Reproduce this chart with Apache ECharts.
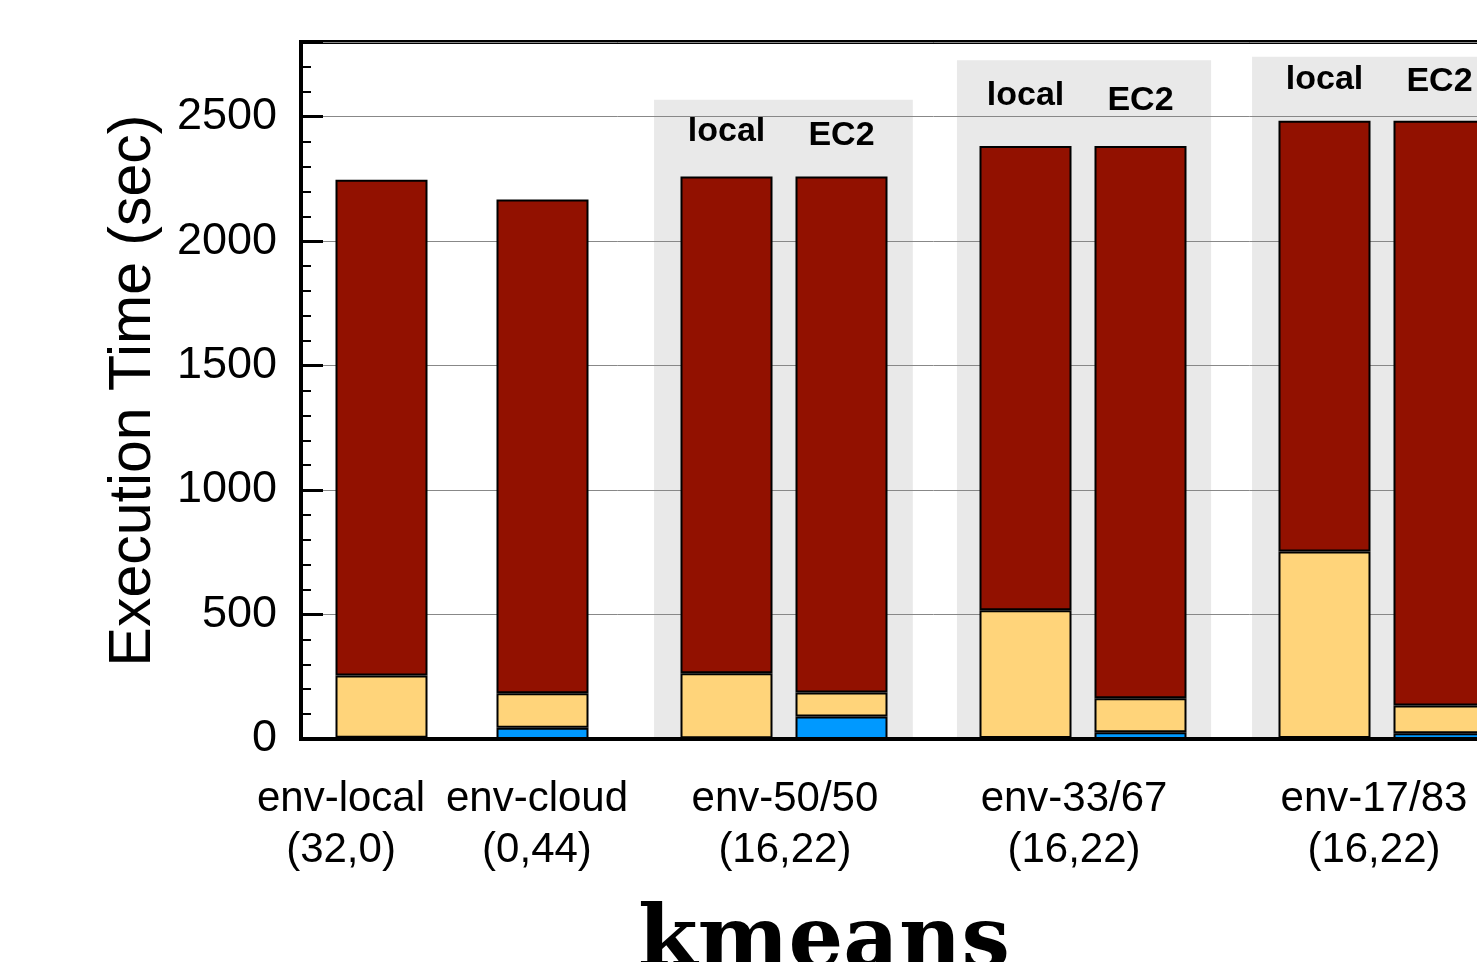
<!DOCTYPE html>
<html>
<head>
<meta charset="utf-8">
<script src="https://cdn.jsdelivr.net/npm/echarts@6/dist/echarts.min.js"></script>
<style>
  html, body { margin: 0; padding: 0; background: #fff; overflow: hidden; }
  /* the plot runs past the right edge of the window, as in the original crop */
  #chart { width: 1600px; height: 962px; }
</style>
</head>
<body>
<div id="chart"></div>
<script>
// 55 narrow slots (~23px) along x; bars sit in these slots
const slotCount = 55;
const barSlots = [3, 10, 18, 23, 31, 36, 44, 49];
const blueSeg = [5, 45, 3, 90, 4, 27, 4, 23];
const yellowSeg = [250, 139, 261, 97, 513, 137, 749, 112];
const redSeg = [1992, 1983, 1996, 2073, 1865, 2218, 1731, 2349];

// group labels under the axis
const envNames = ['env-local', 'env-cloud', 'env-50/50', 'env-33/67', 'env-17/83'];
const envCores = ['(32,0)', '(0,44)', '(16,22)', '(16,22)', '(16,22)'];
const envLabelX = [1.24, 9.76, 20.54, 33.11, 46.15];

// grey boxes behind the hybrid runs
const boxStart = [14.85, 28.02, 40.85];
const boxEnd = [26.1, 39.07, 52.3];
const boxTop = [2568, 2727, 2741];

// local / EC2 captions
const siteNames = ['local', 'EC2', 'local', 'EC2', 'local', 'EC2'];
const siteX = [18, 23, 31, 36, 44, 49];
const siteY = [2438, 2422, 2584, 2565, 2649, 2639];

const FONT = '"Liberation Sans", Arial, Helvetica, sans-serif';

const slots = [];
for (let i = 0; i < slotCount; i++) slots.push(String(i));

function toSlots(vals) {
  const out = slots.map(() => '-');
  barSlots.forEach((s, i) => { out[s] = vals[i]; });
  return out;
}

function barSeries(name, vals, color) {
  return {
    type: 'bar',
    name: name,
    stack: 'total',
    barWidth: 92,
    z: 3,
    data: toSlots(vals),
    itemStyle: { color: color, borderColor: '#000', borderWidth: 2 }
  };
}

const chart = echarts.init(document.getElementById('chart'));
chart.setOption({
  animation: false,
  backgroundColor: '#fff',
  grid: {
    left: 301, top: 42, width: slotCount * 23, height: 697,
    show: true, borderColor: '#000', borderWidth: 4, backgroundColor: 'transparent'
  },
  xAxis: [
    {
      type: 'category', data: slots, z: 4,
      axisLine: { show: true, lineStyle: { color: '#000', width: 4 } },
      axisTick: { show: false }, axisLabel: { show: false }, splitLine: { show: false }
    },
    {
      type: 'value', min: -0.5, max: slotCount - 0.5, show: false,
      splitLine: { show: false }
    }
  ],
  yAxis: {
    type: 'value', min: 0, max: 2800, interval: 500, z: 2,
    name: 'Execution Time (sec)',
    nameLocation: 'middle', nameGap: 138,
    nameTextStyle: { fontSize: 59, fontFamily: FONT, color: '#000' },
    axisLine: { show: true, onZero: false, lineStyle: { color: '#000', width: 4 } },
    axisTick: { show: true, inside: true, length: 22, lineStyle: { color: '#000', width: 3 } },
    minorTick: { show: true, splitNumber: 5, length: 10, lineStyle: { color: '#000', width: 2 } },
    axisLabel: {
      fontSize: 45, fontFamily: FONT, color: '#000', margin: 24,
      showMaxLabel: false,
      formatter: function (v) { return v > 2500 ? '' : String(v); }
    },
    splitLine: { show: true, lineStyle: { color: '#888', width: 1 } }
  },
  series: [
    {
      type: 'custom',
      xAxisIndex: 1,
      z: 1,
      silent: true,
      clip: false,
      encode: { x: [0, 1], y: 2 },
      data: boxStart.map((s, i) => [s, boxEnd[i], boxTop[i]]),
      renderItem: function (params, api) {
        const p1 = api.coord([api.value(0), api.value(2)]);
        const p2 = api.coord([api.value(1), 0]);
        return {
          type: 'rect',
          shape: { x: p1[0], y: p1[1], width: p2[0] - p1[0], height: p2[1] - p1[1] },
          style: { fill: '#e9e9e9' }
        };
      }
    },
    barSeries('blue', blueSeg, '#0099ff'),
    barSeries('yellow', yellowSeg, '#ffd47a'),
    barSeries('red', redSeg, '#921100'),
    {
      type: 'scatter',
      xAxisIndex: 1,
      z: 5,
      symbolSize: 0,
      silent: true,
      itemStyle: { opacity: 1 },
      data: siteX.map((x, i) => ({ name: siteNames[i], value: [x, siteY[i]] })),
      label: {
        show: true, position: 'inside', formatter: '{b}', opacity: 1,
        fontSize: 34, fontWeight: 'bold', fontFamily: FONT, color: '#000'
      }
    },
    {
      type: 'scatter',
      xAxisIndex: 1,
      z: 5,
      symbolSize: 0,
      silent: true,
      clip: false,
      itemStyle: { opacity: 1 },
      data: envLabelX.map((x, i) => ({ name: envNames[i] + '\n' + envCores[i], value: [x, 0] })),
      label: {
        show: true, position: 'bottom', distance: 35, formatter: '{b}', opacity: 1,
        fontSize: 42, lineHeight: 51, fontFamily: FONT, color: '#000', align: 'center'
      }
    }
  ],
  graphic: [
    {
      type: 'text',
      x: 824,
      y: 902,
      style: {
        text: 'kmeans',
        fontSize: 86,
        fontWeight: 'bold',
        fontFamily: '"DejaVu Serif", serif',
        fill: '#000',
        align: 'center',
        verticalAlign: 'top'
      }
    }
  ]
});
</script>
</body>
</html>
